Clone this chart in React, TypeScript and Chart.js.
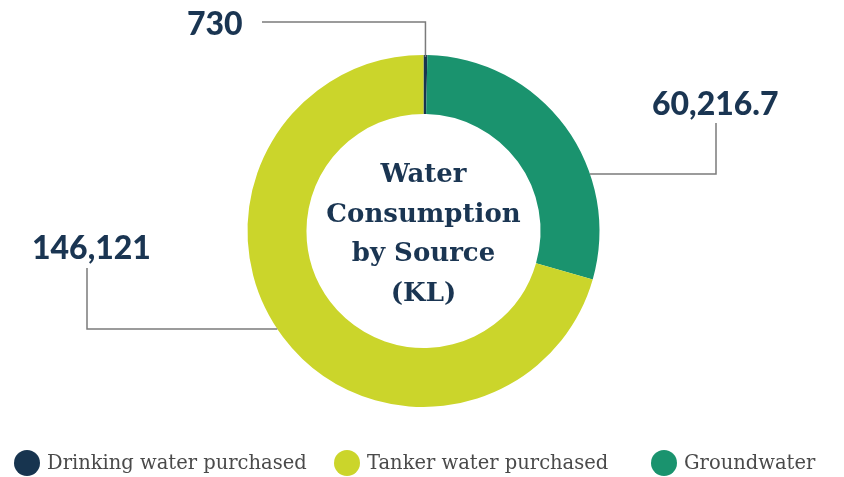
import React, { useEffect, useRef } from "react";
import { Chart, registerables } from "chart.js";

Chart.register(...registerables);

const categories = ["Drinking water purchased", "Groundwater", "Tanker water purchased"];
const values = [730, 60216.7, 146121];
const colors = ["#17344f", "#1a936e", "#cbd52b"];
const legendOrder = [0, 2, 1];
const centerLines = ["Water", "Consumption", "by Source", "(KL)"];

const NAVY = "#1a3552";
const LINE = "#7b7b7b";

const fmt = (v: number) => v.toLocaleString("en-US", { maximumFractionDigits: 1 });

const overlay = {
  id: "overlay",
  afterDraw(chart: any) {
    const ctx = chart.ctx as CanvasRenderingContext2D;
    const meta = chart.getDatasetMeta(0);
    const arcs = meta.data as any[];
    const p = arcs[0].getProps(["x", "y", "outerRadius"], true);
    const cx = p.x, cy = p.y, R = p.outerRadius;

    // center text
    ctx.save();
    ctx.fillStyle = NAVY;
    ctx.font = "bold 26px 'DejaVu Serif'";
    ctx.textAlign = "center";
    ctx.textBaseline = "alphabetic";
    const lh = 39.5;
    const base0 = cy - 49;
    centerLines.forEach((t, i) => ctx.fillText(t, cx, base0 + i * lh));
    ctx.restore();

    const edgeX = (y: number, side: number) => cx + side * Math.sqrt(Math.max(R * R - (y - cy) * (y - cy), 0));
    const midX = (i: number) => {
      const a = arcs[i].getProps(["startAngle", "endAngle"], true);
      return cx + R * Math.cos((a.startAngle + a.endAngle) / 2);
    };

    ctx.save();
    ctx.strokeStyle = LINE;
    ctx.lineWidth = 1.5;
    const paths: [number, number][][] = [];
    const x0 = midX(0);
    paths.push([[262, 22], [x0, 22], [x0, cy - R + 2]]);
    paths.push([[716, 123], [716, 174], [edgeX(174, 1), 174]]);
    paths.push([[87, 268], [87, 329], [edgeX(329, -1), 329]]);
    paths.forEach((pts) => {
      ctx.beginPath();
      pts.forEach(([x, y], k) => (k ? ctx.lineTo(x, y) : ctx.moveTo(x, y)));
      ctx.stroke();
    });
    ctx.restore();

    ctx.save();
    ctx.fillStyle = NAVY;
    ctx.font = "900 32px Lato";
    ctx.textAlign = "left";
    ctx.textBaseline = "alphabetic";
    const labelPos: [number, number][] = [[187, 35], [652, 115], [32, 259]];
    values.forEach((v, i) => ctx.fillText(fmt(v), labelPos[i][0], labelPos[i][1]));
    ctx.restore();

    // legend
    ctx.save();
    ctx.font = "19.5px 'DejaVu Serif'";
    ctx.textBaseline = "middle";
    ctx.textAlign = "left";
    const itemX = [27, 347, 664];
    const ly = 463;
    legendOrder.forEach((idx, k) => {
      ctx.fillStyle = colors[idx];
      ctx.beginPath();
      ctx.arc(itemX[k], ly, 13, 0, Math.PI * 2);
      ctx.fill();
      ctx.fillStyle = "#4a4a4a";
      ctx.fillText(categories[idx], itemX[k] + 20, ly + 1);
    });
    ctx.restore();
  },
};

export default function App() {
  const ref = useRef<HTMLCanvasElement | null>(null);
  useEffect(() => {
    if (!ref.current) return;
    const chart = new Chart(ref.current, {
      type: "doughnut",
      data: {
        labels: categories,
        datasets: [
          {
            data: values,
            backgroundColor: colors,
            borderWidth: 0,
            hoverOffset: 0,
          },
        ],
      },
      options: {
        responsive: false,
        animation: false,
        cutout: "66.5%",
        layout: { padding: { top: 55, bottom: 70, left: 3, right: 0 } },
        plugins: {
          legend: { display: false },
          tooltip: { enabled: false },
        },
      },
      plugins: [overlay],
    });
    return () => chart.destroy();
  }, []);
  return (
    <div style={{ position: "fixed", left: 0, top: 0, width: 844, height: 477, background: "#fff" }}>
      <canvas ref={ref} width={844} height={477} style={{ width: 844, height: 477, display: "block" }} />
    </div>
  );
}
